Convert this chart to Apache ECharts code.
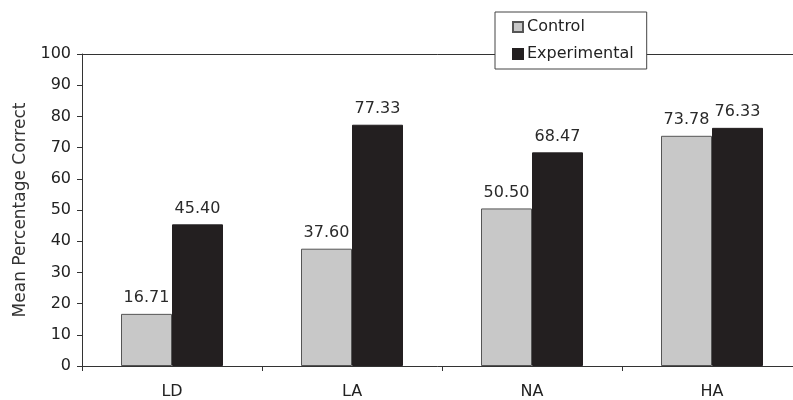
<!DOCTYPE html>
<html><head><meta charset="utf-8">
<script src="https://cdn.jsdelivr.net/npm/echarts@6/dist/echarts.min.js"></script>
<style>html,body{margin:0;padding:0;background:#fff}#c{width:793px;height:400px}</style>
</head><body><div id="c"></div>
<script>
const categories = ['LD', 'LA', 'NA', 'HA'];
const controlValues = [16.71, 37.60, 50.50, 73.78];
const experimentalValues = [45.40, 77.33, 68.47, 76.33];
const yTicks = [0, 10, 20, 30, 40, 50, 60, 70, 80, 90, 100];

const chart = echarts.init(document.getElementById('c'), null, {renderer: 'canvas'});
const font = 'DejaVu Sans, sans-serif';
const labelCfg = {show: true, position: 'top', distance: 8, color: '#2a2a2a', fontSize: 16, fontFamily: font,
  formatter: p => p.value.toFixed(2)};
chart.setOption({
  animation: false,
  grid: {left: 82, top: 54, width: 720, height: 312, outerBoundsMode: 'none', containLabel: false},
  legend: {
    orient: 'vertical', left: 495, top: 12,
    padding: [7, 13, 7, 17], itemGap: 11, itemWidth: 10, itemHeight: 10,
    icon: 'rect', borderColor: '#444', borderWidth: 1, backgroundColor: '#fff',
    textStyle: {fontSize: 16, color: '#222', fontFamily: font, padding: [0, 0, 0, -1]},
    data: ['Control', 'Experimental']
  },
  xAxis: [{
    type: 'category', data: categories,
    axisLine: {lineStyle: {color: '#333', width: 1}},
    axisTick: {show: true, length: 5, lineStyle: {color: '#333'}},
    axisLabel: {color: '#222', fontSize: 16, fontFamily: font, margin: 18}
  }, {
    type: 'category', data: categories, position: 'top',
    axisLine: {show: true, lineStyle: {color: '#333', width: 1}},
    axisTick: {show: false}, axisLabel: {show: false}
  }],
  yAxis: {
    type: 'value', min: 0, max: 100, interval: 10,
    name: 'Mean Percentage Correct', nameLocation: 'middle', nameGap: 53,
    nameTextStyle: {fontSize: 17, color: '#333', fontFamily: font},
    axisLine: {show: true, lineStyle: {color: '#333'}},
    axisTick: {show: true, length: 5, lineStyle: {color: '#333'}},
    axisLabel: {color: '#222', fontSize: 16, fontFamily: font, margin: 11,
      formatter: v => yTicks.includes(v) ? String(v) : ''},
    splitLine: {show: false}
  },
  series: [{
    name: 'Control', type: 'bar', data: controlValues, barWidth: 51, barGap: '0%',
    itemStyle: {color: '#c8c8c8', borderColor: '#555', borderWidth: 1},
    label: labelCfg
  }, {
    name: 'Experimental', type: 'bar', data: experimentalValues, barWidth: 51,
    itemStyle: {color: '#231f20', borderColor: '#231f20', borderWidth: 1},
    label: labelCfg
  }]
});
</script></body></html>
